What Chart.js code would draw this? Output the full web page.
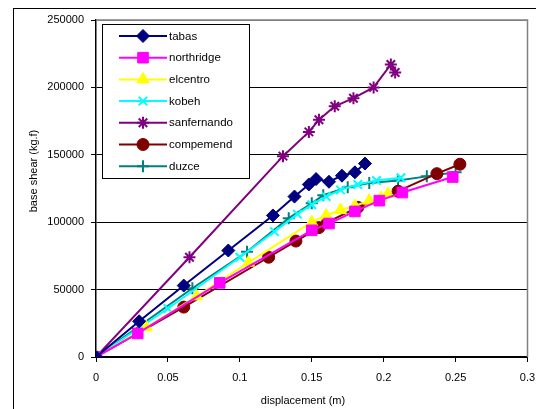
<!DOCTYPE html>
<html>
<head>
<meta charset="utf-8">
<script src="https://cdn.jsdelivr.net/npm/chart.js@4"></script>
<style>
  body { margin: 0; background: #fff; }
  canvas { display: block; }
</style>
</head>
<body>
<canvas id="chart" width="536" height="409"></canvas>
<script>
// values
const seriesNames = ["tabas", "northridge", "elcentro", "kobeh", "sanfernando", "compemend", "duzce"];

const tabasX = [0, 0.030, 0.061, 0.092, 0.123, 0.138, 0.148, 0.153, 0.162, 0.171, 0.180, 0.187];
const tabasY = [0, 26500, 53000, 79000, 105000, 119000, 128000, 132000, 130000, 134500, 137000, 143500];

const northX = [0, 0.029, 0.086, 0.150, 0.162, 0.180, 0.197, 0.213, 0.248];
const northY = [0, 17500, 55000, 94000, 99000, 108000, 116000, 122000, 133500];

const elcX = [0, 0.035, 0.070, 0.106, 0.150, 0.160, 0.170, 0.180, 0.190, 0.198, 0.203];
const elcY = [0, 22000, 45000, 70000, 100000, 105000, 109000, 112000, 116000, 118000, 121000];

const kobX = [0, 0.050, 0.100, 0.124, 0.140, 0.150, 0.160, 0.170, 0.182, 0.195, 0.212];
const kobY = [0, 36000, 74000, 93000, 106000, 113000, 119000, 124000, 128000, 131000, 133000];

const sanX = [0, 0.065, 0.130, 0.148, 0.155, 0.166, 0.179, 0.193, 0.205, 0.208];
const sanY = [0, 74000, 149000, 167000, 176000, 186000, 192000, 200000, 217000, 211000];

const compX = [0, 0.061, 0.120, 0.139, 0.155, 0.161, 0.182, 0.210, 0.237, 0.253];
const compY = [0, 37000, 74000, 86000, 96000, 100000, 111000, 123000, 136000, 143000];

const duzX = [0, 0.067, 0.105, 0.134, 0.150, 0.158, 0.175, 0.190, 0.210, 0.230, 0.250];
const duzY = [0, 51000, 78000, 103000, 114000, 120000, 126000, 129000, 131000, 134000, 137000];

const xTicks = [0, 0.05, 0.1, 0.15, 0.2, 0.25, 0.3];
const yTicks = [0, 50000, 100000, 150000, 200000, 250000];

const FONT = "'Liberation Sans', Arial, sans-serif";

function pts(xs, ys) {
  return xs.map((x, i) => ({ x, y: ys[i] }));
}

function series(i, xs, ys, color, style, radius, pbw) {
  return {
    label: seriesNames[i],
    data: pts(xs, ys),
    showLine: true,
    borderColor: color,
    backgroundColor: color,
    borderWidth: 2,
    pointStyle: style,
    pointRadius: radius,
    pointHoverRadius: radius,
    pointBackgroundColor: color,
    pointBorderColor: color,
    pointBorderWidth: pbw
  };
}

const datasets = [
  series(0, tabasX, tabasY, "#000080", "rectRot", 6.5, 1),
  series(1, northX, northY, "#ff00ff", "rect", 7.5, 1),
  series(2, elcX, elcY, "#ffff00", "triangle", 7, 1),
  series(3, kobX, kobY, "#00ffff", "crossRot", 6, 2),
  series(4, sanX, sanY, "#800080", "star", 6, 2),
  series(5, compX, compY, "#800000", "circle", 6, 1),
  series(6, duzX, duzY, "#008080", "cross", 6, 2)
];

const frame = {
  id: "frame",
  beforeDraw(chart) {
    const ctx = chart.ctx;
    ctx.save();
    ctx.fillStyle = "#fff";
    ctx.fillRect(0, 0, chart.width, chart.height);
    ctx.strokeStyle = "#000";
    ctx.lineWidth = 1;
    ctx.strokeRect(13.5, 8.5, 600, 600);
    ctx.restore();
  },
  afterDraw(chart) {
    const ctx = chart.ctx;
    const a = chart.chartArea;
    ctx.save();
    // plot border top/right
    ctx.strokeStyle = "#808080";
    ctx.lineWidth = 1.5;
    ctx.beginPath();
    ctx.moveTo(a.left, a.top);
    ctx.lineTo(a.right, a.top);
    ctx.lineTo(a.right, a.bottom);
    ctx.stroke();

    // axis titles
    ctx.fillStyle = "#000";
    ctx.font = "11px " + FONT;
    ctx.textAlign = "center";
    ctx.textBaseline = "middle";
    ctx.fillText("displacement (m)", 303, 401);
    ctx.translate(34, 171);
    ctx.rotate(-Math.PI / 2);
    ctx.fillText("base shear (kg.f)", 0, 0);
    ctx.setTransform(1, 0, 0, 1, 0, 0);

    // legend
    ctx.fillStyle = "#fff";
    ctx.fillRect(102, 24, 147, 154);
    ctx.strokeStyle = "#000";
    ctx.lineWidth = 1;
    ctx.strokeRect(102.5, 24.5, 147, 154);
    ctx.font = "11.5px " + FONT;
    ctx.textAlign = "left";
    chart.data.datasets.forEach((ds, i) => {
      const y = 36 + i * 21.7;
      ctx.strokeStyle = ds.borderColor;
      ctx.lineWidth = 2;
      ctx.beginPath();
      ctx.moveTo(119, y);
      ctx.lineTo(167, y);
      ctx.stroke();
      ctx.fillStyle = ds.pointBackgroundColor;
      ctx.strokeStyle = ds.pointBorderColor;
      ctx.lineWidth = ds.pointBorderWidth;
      Chart.helpers.drawPoint(ctx, { pointStyle: ds.pointStyle, radius: ds.pointRadius, rotation: 0, borderWidth: ds.pointBorderWidth }, 143, y);
      ctx.fillStyle = "#000";
      ctx.fillText(ds.label, 169, y + 0.5);
    });
    ctx.restore();
  }
};

new Chart(document.getElementById("chart"), {
  type: "scatter",
  data: { datasets },
  options: {
    responsive: false,
    animation: false,
    layout: { padding: { top: 20, right: 5, left: 0, bottom: 0 } },
    plugins: { legend: { display: false }, tooltip: { enabled: false } },
    scales: {
      x: {
        type: "linear",
        min: 0,
        max: 0.3,
        afterBuildTicks: (s) => { s.ticks = xTicks.map((v) => ({ value: v })); },
        ticks: {
          color: "#000",
          font: { family: FONT, size: 11 },
          padding: 9,
          maxRotation: 0,
          autoSkip: false,
          callback: (v) => String(Math.round(v * 100) / 100)
        },
        grid: { drawOnChartArea: false, drawTicks: true, tickLength: 5, color: "#000", tickColor: "#000" },
        border: { color: "#000", width: 1.5 },
        afterFit: (s) => { s.height = 52; s.paddingLeft = 0; s.paddingRight = 0; }
      },
      y: {
        type: "linear",
        min: 0,
        max: 250000,
        afterBuildTicks: (s) => { s.ticks = yTicks.map((v) => ({ value: v })); },
        ticks: {
          color: "#000",
          font: { family: FONT, size: 11 },
          padding: 7,
          autoSkip: false,
          callback: (v) => String(v)
        },
        grid: {
          color: (c) => (c.tick && c.tick.value === 250000 ? "#808080" : "#000"),
          tickColor: "#000",
          tickLength: 5,
          lineWidth: 1
        },
        border: { color: "#000", width: 1.5 },
        afterFit: (s) => { s.width = 96; s.paddingTop = 0; s.paddingBottom = 0; }
      }
    }
  },
  plugins: [frame]
});
</script>
</body>
</html>
